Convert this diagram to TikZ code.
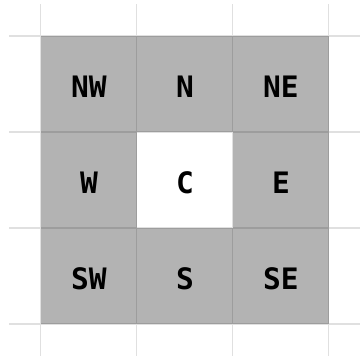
\documentclass[tikz,border=0pt]{standalone}
\usepackage{fontspec}
\newfontfamily\cellfont{DejaVu Sans Mono}
\definecolor{nbrgray}{HTML}{B3B3B3}

\begin{document}
\begin{tikzpicture}[x=2cm,y=2cm,
    cell/.style={minimum size=2cm,inner sep=0pt,text height=16pt,text depth=0pt,
      font=\cellfont\bfseries\fontsize{17.5}{20}\selectfont},
    nbr/.style={cell,fill=nbrgray},
    gridline/.style={black,opacity=0.12,line width=0.6pt}]
  \useasboundingbox (-0.427,-0.375) rectangle (3.313,3.375);
  % neighbours round the centre cell
  \foreach \lab/\col/\row in {NW/0/2,N/1/2,NE/2/2,W/0/1,E/2/1,SW/0/0,S/1/0,SE/2/0}
    \node[nbr] (\lab) at (\col+0.5,\row+0.5) {\lab};
  \node[cell] (C) at (1.5,1.5) {C};
  \draw[gridline,step=2cm] (-1/3,-1/3) grid (10/3,10/3);
\end{tikzpicture}
\end{document}
